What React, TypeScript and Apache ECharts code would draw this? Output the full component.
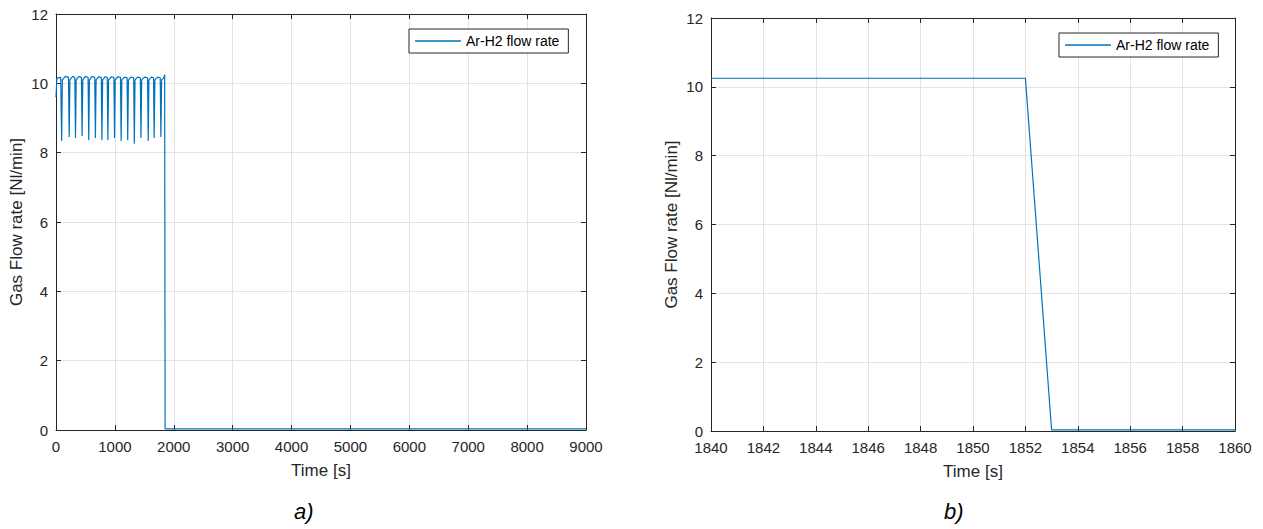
import React, { useEffect, useRef } from "react";
import * as echarts from "echarts";

// ---- data ----
const seriesName = "Ar-H2 flow rate";

// Panel a) : time [s] and Ar-H2 flow rate [Nl/min]
const leftTime = [
  0, 15, 80, 96, 108, 160, 212, 224, 236, 283, 320, 331, 343, 390, 432, 443, 455, 500, 545, 556,
  568, 612, 658, 669, 681, 725, 769, 780, 792, 835, 870, 881, 893, 940, 983, 994, 1006, 1050,
  1095, 1106, 1118, 1162, 1207, 1218, 1230, 1275, 1319, 1330, 1342, 1386, 1432, 1443, 1455,
  1505, 1555, 1566, 1578, 1620, 1656, 1667, 1679, 1725, 1770, 1781, 1793, 1830, 1845, 1852,
  1853, 9000,
];
const leftFlow = [
  9.6, 10.15, 10.17, 8.34, 10.1, 10.2, 10.17, 8.45, 10.1, 10.2, 10.17, 8.42, 10.1, 10.2, 10.17,
  8.48, 10.1, 10.2, 10.17, 8.36, 10.1, 10.2, 10.17, 8.42, 10.1, 10.19, 10.17, 8.36, 10.1, 10.19,
  10.17, 8.36, 10.1, 10.19, 10.17, 8.42, 10.1, 10.19, 10.17, 8.34, 10.1, 10.18, 10.16, 8.36,
  10.1, 10.18, 10.16, 8.26, 10.1, 10.18, 10.16, 8.42, 10.1, 10.18, 10.16, 8.34, 10.1, 10.18,
  10.16, 8.42, 10.1, 10.18, 10.16, 8.45, 10.1, 10.15, 10.25, 10.25, 0.03, 0.03,
];

// Panel b) : zoom around the shut-off
const rightTime = [1840, 1852, 1853, 1860];
const rightFlow = [10.25, 10.25, 0.03, 0.03];

const leftXTicks = { min: 0, max: 9000, interval: 1000 };
const rightXTicks = { min: 1840, max: 1860, interval: 2 };
const yTicks = { min: 0, max: 12, interval: 2 };

const xTitle = "Time [s]";
const yTitle = "Gas Flow rate [Nl/min]";
const captions = ["a)", "b)"];

// ---- styles ----
const FONT = "'Liberation Sans', Arial, Helvetica, sans-serif";
const AX = "#262626";
const GRID = "#e3e3e3";
const LINE = "#0072BD";

function axisPair(gridIndex: number, ticks: { min: number; max: number; interval: number }, isX: boolean) {
  const main: any = {
    type: "value",
    gridIndex,
    min: ticks.min,
    max: ticks.max,
    interval: ticks.interval,
    position: isX ? "bottom" : "left",
    axisLine: { show: true, onZero: false, lineStyle: { color: AX, width: 1 } },
    axisTick: { show: true, inside: true, length: 5, lineStyle: { color: AX } },
    axisLabel: {
      show: true,
      color: AX,
      fontFamily: FONT,
      fontSize: 15,
      margin: isX ? 9 : 8,
      showMinLabel: true,
      showMaxLabel: true,
      formatter: (v: number) => String(v),
    },
    splitLine: { show: true, lineStyle: { color: GRID, width: 1 } },
    name: isX ? xTitle : yTitle,
    nameLocation: "middle",
    nameGap: isX ? 32 : 31,
    nameTextStyle: { color: AX, fontFamily: FONT, fontSize: 17 },
  };
  const mirror: any = {
    type: "value",
    gridIndex,
    min: ticks.min,
    max: ticks.max,
    interval: ticks.interval,
    position: isX ? "top" : "right",
    axisLine: { show: true, onZero: false, lineStyle: { color: AX, width: 1 } },
    axisTick: { show: true, inside: true, length: 5, lineStyle: { color: AX } },
    axisLabel: { show: false },
    splitLine: { show: false },
  };
  return [main, mirror];
}

export default function App() {
  const ref = useRef<HTMLDivElement>(null);

  useEffect(() => {
    document.body.style.margin = "0";
    if (!ref.current) return;
    const chart = echarts.init(ref.current, undefined, { renderer: "svg" });

    const leftData = leftTime.map((t, i) => [t, leftFlow[i]]);
    const rightData = rightTime.map((t, i) => [t, rightFlow[i]]);

    const [lx, lx2] = axisPair(0, leftXTicks, true);
    const [rx, rx2] = axisPair(1, rightXTicks, true);
    const [ly, ly2] = axisPair(0, yTicks, false);
    const [ry, ry2] = axisPair(1, yTicks, false);

    const legendBase: any = {
      orient: "horizontal",
      backgroundColor: "#ffffff",
      borderColor: AX,
      borderWidth: 1,
      borderRadius: 0,
      padding: [5, 9, 5, 6],
      itemWidth: 46,
      itemHeight: 1.5,
      itemGap: 5,
      icon: "rect",
      textStyle: { color: "#000", fontFamily: FONT, fontSize: 14 },
      data: [seriesName],
      selectedMode: false,
    };

    chart.setOption({
      animation: false,
      backgroundColor: "#ffffff",
      textStyle: { fontFamily: FONT },
      grid: [
        { left: 56, top: 14, width: 530, height: 416, containLabel: false },
        { left: 711, top: 18, width: 524, height: 413, containLabel: false },
      ],
      xAxis: [lx, lx2, rx, rx2],
      yAxis: [ly, ly2, ry, ry2],
      legend: [
        { ...legendBase, left: 409, top: 29 },
        { ...legendBase, left: 1059, top: 33 },
      ],
      graphic: [
        {
          type: "text",
          left: 294,
          top: 500,
          style: { text: captions[0], font: `italic 22px ${FONT}`, fill: "#000" },
        },
        {
          type: "text",
          left: 944,
          top: 500,
          style: { text: captions[1], font: `italic 22px ${FONT}`, fill: "#000" },
        },
      ],
      series: [
        {
          name: seriesName,
          type: "line",
          xAxisIndex: 0,
          yAxisIndex: 0,
          data: leftData,
          showSymbol: false,
          symbol: "none",
          lineStyle: { color: LINE, width: 1.2 },
          itemStyle: { color: LINE },
          z: 3,
        },
        {
          name: seriesName,
          type: "line",
          xAxisIndex: 2,
          yAxisIndex: 2,
          data: rightData,
          showSymbol: false,
          symbol: "none",
          lineStyle: { color: LINE, width: 1.2 },
          itemStyle: { color: LINE },
          z: 3,
        },
      ],
    });

    return () => chart.dispose();
  }, []);

  return <div ref={ref} style={{ width: 1263, height: 529 }} />;
}
